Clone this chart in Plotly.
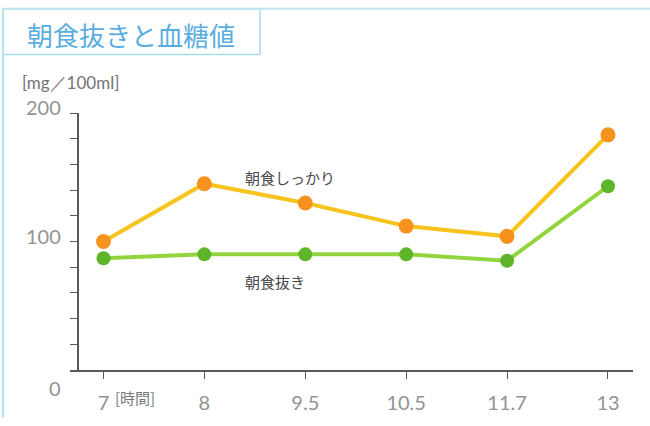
import plotly.graph_objects as go

# Blood sugar [mg/100ml] by hour of day
hours = ["7", "8", "9.5", "10.5", "11.7", "13"]
with_breakfast = [100, 145, 130, 112, 104, 183]
skipped_breakfast = [87, 90, 90, 90, 85, 143]
y_label_values = [0, 100, 200]
y_tick_values = list(range(0, 201, 20))

W, H = 650, 426
ML, MR, MT, MB = 70, 17, 113, 49
PW, PH = W - ML - MR, H - MT - MB


def px(x):
    return (x - ML) / PW


def py(y):
    return (H - MB - y) / PH


JP = "Noto Sans CJK JP"
NUM = "Lato"
AXIS = "#5a5a5a"
NUM_COLOR = "#939393"

fig = go.Figure()
fig.add_trace(go.Scatter(
    x=hours, y=with_breakfast, mode="lines+markers", name="朝食しっかり",
    line=dict(color="#f7c41e", width=4),
    marker=dict(color="#f7921e", size=15),
))
fig.add_trace(go.Scatter(
    x=hours, y=skipped_breakfast, mode="lines+markers", name="朝食抜き",
    line=dict(color="#92d43e", width=4),
    marker=dict(color="#5fb52a", size=14),
))

annotations = [
    # title
    dict(text="朝食抜きと血糖値", xref="paper", yref="paper", x=px(131), y=py(32),
         xanchor="center", yanchor="middle", showarrow=False,
         font=dict(family=JP, size=26, color="#5aaedf")),
    # unit
    dict(text="[mg／100ml]", xref="paper", yref="paper", x=px(20), y=py(82),
         xanchor="left", yanchor="middle", showarrow=False,
         font=dict(family=NUM, size=17, color="#737373")),
    # series labels
    dict(text="朝食しっかり", xref="x", yref="y", x=1.38, y=150,
         xanchor="left", yanchor="middle", showarrow=False,
         font=dict(family=JP, size=15, color="#4a4a4a")),
    dict(text="朝食抜き", xref="x", yref="y", x=1.38, y=69,
         xanchor="left", yanchor="middle", showarrow=False,
         font=dict(family=JP, size=15, color="#4a4a4a")),
    # x unit next to the first hour
    dict(text="[時間]", xref="x", yref="paper", x=0, y=py(405),
         xanchor="left", yanchor="middle", xshift=9, showarrow=False,
         font=dict(family=JP, size=15, color="#7a7a7a")),
]

# y value labels (0 sits below the axis corner)
label_shift = {0: (px(55), "center", -18), 100: (px(63), "right", 6), 200: (px(63), "right", 6)}
for v in y_label_values:
    lx, anchor, shift = label_shift[v]
    annotations.append(dict(
        text=str(v), xref="paper", yref="y", x=lx, y=v, xanchor=anchor,
        yanchor="middle", yshift=shift, showarrow=False,
        font=dict(family=NUM, size=20, color=NUM_COLOR),
    ))

shapes = [
    # page frame
    dict(type="line", xref="paper", yref="paper", x0=px(3), x1=px(650), y0=py(6), y1=py(6),
         line=dict(color="#bde5ee", width=2)),
    dict(type="line", xref="paper", yref="paper", x0=px(3), x1=px(3), y0=py(6), y1=py(426),
         line=dict(color="#bde5ee", width=2.5)),
    # title box
    dict(type="rect", xref="paper", yref="paper", x0=px(3), x1=px(260), y0=py(6), y1=py(53),
         line=dict(color="#a9d9ec", width=1.5), fillcolor="white", layer="below"),
]

fig.update_layout(
    width=W, height=H,
    margin=dict(l=ML, r=MR, t=MT, b=MB, pad=0),
    paper_bgcolor="white", plot_bgcolor="white",
    showlegend=False,
    annotations=annotations,
    shapes=shapes,
    xaxis=dict(
        type="category", range=[-0.332, 5.248],
        showline=True, linecolor=AXIS, linewidth=1.5,
        ticks="outside", ticklen=7, tickwidth=1.2, tickcolor=AXIS,
        tickfont=dict(family=NUM, size=20, color=NUM_COLOR),
        ticklabelstandoff=7,
        showgrid=False, zeroline=False, fixedrange=True,
    ),
    yaxis=dict(
        range=[0, 200], anchor="free", position=px(78),
        showline=True, linecolor=AXIS, linewidth=1.5,
        ticks="outside", ticklen=7, tickwidth=1.2, tickcolor=AXIS,
        tickvals=y_tick_values, showticklabels=False,
        showgrid=False, zeroline=False, fixedrange=True,
    ),
)

fig.write_html("out.html")
